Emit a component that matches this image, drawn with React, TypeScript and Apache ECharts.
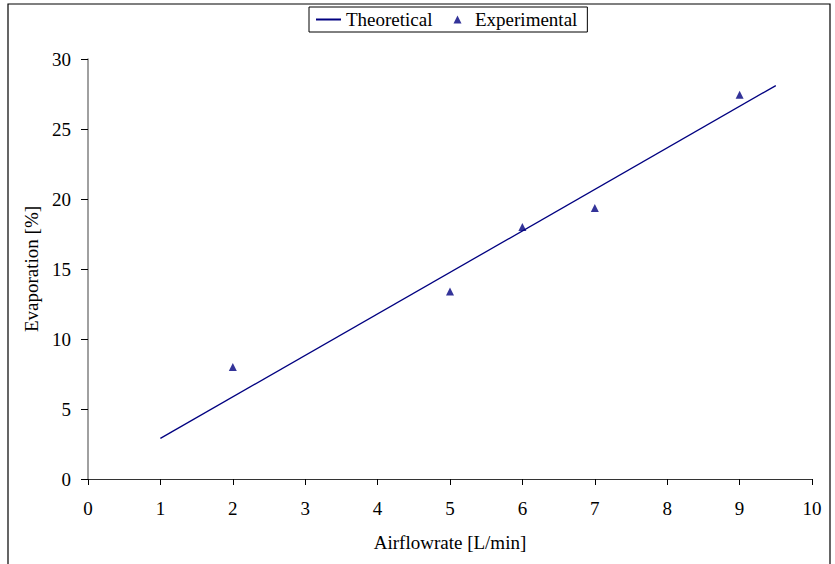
import React, { useEffect, useRef } from "react";
import * as echarts from "echarts";

const theoreticalX = [1, 9.5];
const theoreticalY = [2.9, 28.1];
const experimentalX = [2, 5, 6, 7, 9];
const experimentalY = [8.0, 13.4, 18.0, 19.35, 27.45];
const xName = "Airflowrate [L/min]";
const yName = "Evaporation [%]";

const FONT = "Liberation Serif";
const TRIANGLE = "path://M4,0 L8,8 L0,8 Z";

export default function App() {
  const ref = useRef<HTMLDivElement>(null);
  useEffect(() => {
    if (!ref.current) return;
    const chart = echarts.init(ref.current, undefined, { renderer: "svg" });
    chart.setOption({
      animation: false,
      backgroundColor: "#fff",
      textStyle: { fontFamily: FONT, color: "#000" },
      graphic: [
        {
          type: "rect",
          shape: { x: 8, y: 4, width: 822, height: 620 },
          style: { fill: "none", stroke: "#000", lineWidth: 1.2 },
          silent: true,
        },
      ],
      legend: {
        left: 309,
        top: 7,
        orient: "horizontal",
        padding: [3, 10, 3, 6],
        itemGap: 21,
        itemWidth: 25,
        itemHeight: 8,
        symbolKeepAspect: true,
        borderColor: "#000",
        borderWidth: 1,
        textStyle: { fontFamily: FONT, fontSize: 19, color: "#000" },
        data: [
          { name: "Theoretical", itemStyle: { opacity: 0 } },
          { name: "Experimental", icon: TRIANGLE },
        ],
      },
      grid: { left: 88, top: 59, right: 23, bottom: 85, containLabel: false },
      xAxis: {
        type: "value",
        min: 0,
        max: 10,
        interval: 1,
        name: xName,
        nameLocation: "middle",
        nameGap: 54,
        nameTextStyle: { fontFamily: FONT, fontSize: 19, color: "#000" },
        axisLine: { show: true, onZero: false, lineStyle: { color: "#333", width: 1.2 } },
        axisTick: { show: true, inside: false, length: 6, lineStyle: { color: "#000" } },
        axisLabel: { fontFamily: FONT, fontSize: 19, color: "#000", margin: 20 },
        splitLine: { show: false },
      },
      yAxis: {
        type: "value",
        min: 0,
        max: 30,
        interval: 5,
        name: yName,
        nameLocation: "middle",
        nameGap: 46,
        nameRotate: 90,
        nameTextStyle: { fontFamily: FONT, fontSize: 19, color: "#000" },
        axisLine: { show: true, lineStyle: { color: "#808080", width: 1.5 } },
        axisTick: { show: true, inside: false, length: 7, lineStyle: { color: "#000" } },
        axisLabel: { fontFamily: FONT, fontSize: 19, color: "#000", margin: 17 },
        splitLine: { show: false },
      },
      series: [
        {
          name: "Theoretical",
          type: "line",
          data: theoreticalX.map((x, i) => [x, theoreticalY[i]]),
          symbol: "none",
          lineStyle: { color: "#000080", width: 1.3 },
          itemStyle: { color: "#000080" },
          z: 2,
        },
        {
          name: "Experimental",
          type: "scatter",
          data: experimentalX.map((x, i) => [x, experimentalY[i]]),
          symbol: "triangle",
          symbolSize: [8, 8],
          itemStyle: { color: "#000080" },
          z: 3,
        },
      ],
    });
    return () => chart.dispose();
  }, []);
  return (
    <div
      ref={ref}
      style={{ position: "fixed", left: 0, top: 0, width: 835, height: 564 }}
    />
  );
}
